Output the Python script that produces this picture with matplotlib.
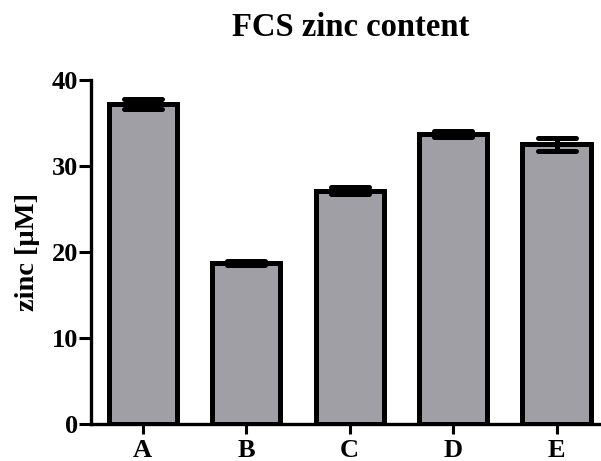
import matplotlib
matplotlib.use("Agg")
import matplotlib.pyplot as plt
from matplotlib.markers import MarkerStyle

categories = ["A", "B", "C", "D", "E"]
values = [37.2, 18.7, 27.1, 33.7, 32.5]
errors = [0.6, 0.25, 0.4, 0.35, 0.8]
yticks = [0, 10, 20, 30, 40]

plt.rcParams['font.family'] = ['Liberation Serif', 'DejaVu Serif']
plt.rcParams['font.weight'] = 'bold'

fig = plt.figure(figsize=(6.01, 4.61), dpi=100)
ax = fig.add_axes([91/601, 37/461, 508/601, 344/461])

x = list(range(len(categories)))
ax.bar(x, values, width=0.66, color='#a09fa5', edgecolor='black', linewidth=3.6, zorder=2)
eb = ax.errorbar(x, values, yerr=errors, fmt='none', ecolor='black', elinewidth=3.6,
                 capsize=14, capthick=3.6, zorder=3)
for cap in eb[1]:
    cap.set_marker(MarkerStyle('_', capstyle='round'))
    cap.set_markersize(28)
    cap.set_markeredgewidth(3.6)

ax.set_xlim(-0.5, 4.41)
ax.set_ylim(0, 40)
ax.set_yticks(yticks)
ax.set_xticks(x)
ax.set_xticklabels(categories)
for s in ['top', 'right']:
    ax.spines[s].set_visible(False)
for s in ['left', 'bottom']:
    ax.spines[s].set_linewidth(2.4)
ax.tick_params(axis='y', width=2.2, length=8.5, labelsize=19, pad=1)
ax.tick_params(axis='x', width=2.2, length=7.5, labelsize=19, pad=3)
for lbl in ax.get_xticklabels() + ax.get_yticklabels():
    lbl.set_fontweight('bold')
ax.set_ylabel('zinc [μM]', fontsize=20.5, fontweight='bold', labelpad=8)
fig.text(351/601, 1 - 27/461, 'FCS zinc content', fontsize=23.5, fontweight='bold',
         ha='center', va='center')

fig.savefig('out.png', dpi=100)
